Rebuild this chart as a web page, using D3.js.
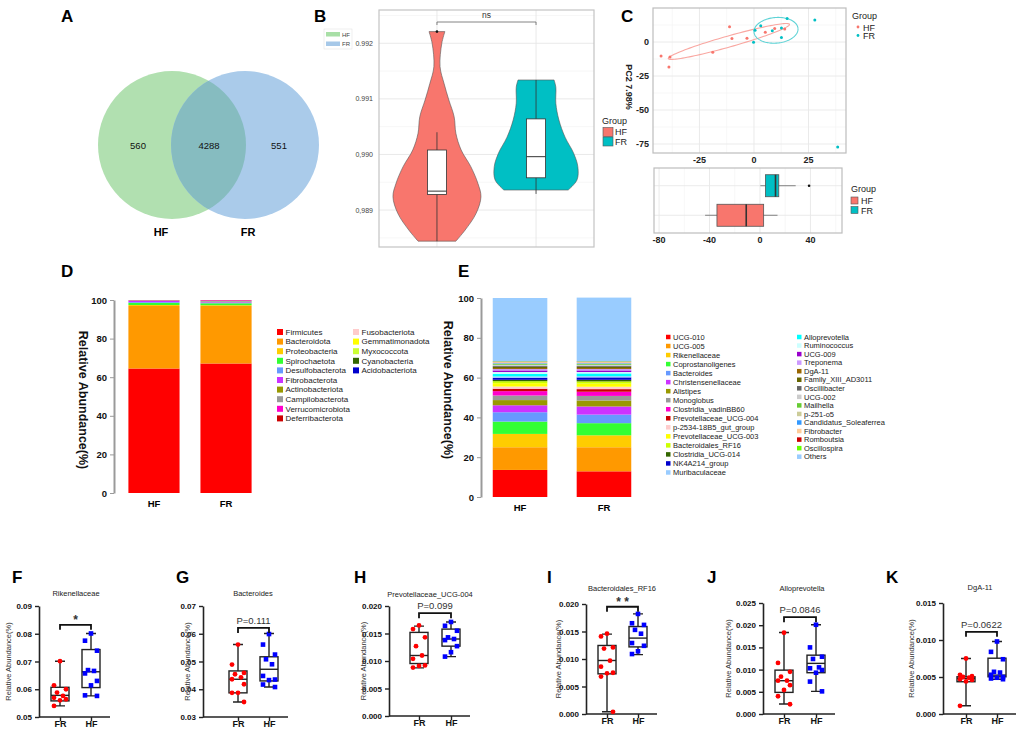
<!DOCTYPE html>
<html>
<head>
<meta charset="utf-8">
<script src="https://cdn.jsdelivr.net/npm/d3@7"></script>
<style>
  body { margin: 0; background: #fff; }
  text { font-family: "Liberation Sans", Arial, sans-serif; }
</style>
</head>
<body>
<svg id="fig" width="1021" height="732"></svg>
<script>
////////////////////////////////////////////////////////
//////////////////// Data //////////////////////////////
////////////////////////////////////////////////////////

// A - venn
const vennGroups = ["HF", "FR"];
const vennCounts = [560, 4288, 551];

// B - alpha diversity violins
const groupsB = ["HF", "FR"];
const vioHFVals = [0.99221, 0.99200, 0.99158, 0.99128, 0.99098, 0.99068, 0.99038, 0.99008, 0.98978, 0.98948, 0.98924, 0.98894, 0.98864, 0.98844];
const vioHFDens = [0.18, 0.11, 0.07, 0.16, 0.27, 0.39, 0.43, 0.55, 0.77, 0.93, 1.00, 0.89, 0.64, 0.43];
const vioFRVals = [0.99134, 0.99121, 0.99092, 0.99062, 0.99031, 0.99003, 0.98978, 0.98954, 0.98936];
const vioFRDens = [0.41, 0.45, 0.45, 0.52, 0.66, 0.85, 0.95, 0.93, 0.73];
const boxHF = [0.98844, 0.98928, 0.98934, 0.99008, 0.99040]; // lo, q1, median, q3, hi
const boxFR = [0.98929, 0.98958, 0.98996, 0.99064, 0.99134];
const outHF = [0.99221];
const ticksB = [0.989, 0.990, 0.991, 0.992];
const tickLabelsB = ["0,989", "0,990", "0.991", "0.992"];

// C - PCA
const pcaHFx = [-42.6, -38.5, -39.0, -18.9, -11.2, -10.1, -3.2, 5.2, 9.5, 14.1];
const pcaHFy = [-10.3, -11.0, -18.4, -7.6, 11.3, 2.5, 2.7, 7.1, 10.0, 9.6];
const pcaFRx = [0.5, 3.1, -0.2, 8.4, 12.6, 12.6, 15.2, 27.9, 38.4];
const pcaFRy = [8.6, 12.0, -0.2, 8.3, 10.3, 3.4, 17.2, 16.2, -77.2];
const ellHF = [-11.5, 0.4, 27.8, 12.6, 0.68, -3.9]; // cx, cy, ax, ay, bx, by
const ellFR = [10.1, 8.6, 10.1, 1.2, -0.3, 9.4];
const ticksCx = [-25, 0, 25];
const ticksCy = [0, -25, -50, -75];
const pc1BoxHF = [-43.5, -34.1, -10.9, 2.9, 13.9];
const pc1BoxFR = [0.3, 4.3, 12.3, 14.9, 28.3];
const pc1OutFR = [38.9];
const ticksCb = [-80, -40, 0, 40];

// D - phylum composition
const phylaNames = ["Firmicutes", "Bacteroidota", "Proteobacteria", "Spirochaetota", "Desulfobacterota", "Fibrobacterota",
  "Actinobacteriota", "Campilobacterota", "Verrucomicrobiota", "Deferribacterota",
  "Fusobacteriota", "Gemmatimonadota", "Myxococcota", "Cyanobacteria", "Acidobacteriota"];
const phylaColors = ["#ff0000", "#ff9900", "#ffcc00", "#33ff33", "#6699ff", "#cc33ff",
  "#999900", "#999999", "#ff00cc", "#cc0000",
  "#ffcccc", "#ffff00", "#ccff33", "#336600", "#0000cc"];
const phylaHF = [64.5, 32.4, 0.5, 1.1, 0.4, 0.7, 0.1, 0.1, 0.1, 0.05, 0.01, 0.01, 0.01, 0.01, 0.01];
const phylaFR = [67.1, 29.8, 0.4, 1.0, 0.3, 0.3, 0.2, 0.5, 0.3, 0.1, 0, 0, 0, 0, 0];
const barGroups = ["HF", "FR"];
const ticksPct = [0, 20, 40, 60, 80, 100];

// E - genus composition
const genusNames = ["UCG-010", "UCG-005", "Rikenellaceae", "Coprostanoligenes", "Bacteroides", "Christensenellaceae",
  "Alistipes", "Monoglobus", "Clostridia_vadinBB60", "Prevotellaceae_UCG-004", "p-2534-18B5_gut_group",
  "Prevotellaceae_UCG-003", "Bacteroidales_RF16", "Clostridia_UCG-014", "NK4A214_group", "Muribaculaceae",
  "Alloprevotella", "Ruminococcus", "UCG-009", "Treponema", "DgA-11", "Family_XIII_AD3011", "Oscillibacter",
  "UCG-002", "Mailhella", "p-251-o5", "Candidatus_Soleaferrea", "Fibrobacter", "Romboutsia", "Oscillospira", "Others"];
const genusColors = ["#ff0000", "#ff9900", "#ffcc00", "#33ff33", "#6699ff", "#cc33ff",
  "#999900", "#999999", "#ff00cc", "#cc0000", "#ffcccc",
  "#ffff00", "#ccff00", "#336600", "#0000cc", "#99ccff",
  "#00ffff", "#ccffff", "#9900cc", "#cc99ff", "#996600", "#666600", "#666666",
  "#cccccc", "#66cc33", "#cccc99", "#3399ff", "#ffcc99", "#cc0000", "#66ff00", "#99ccff"];
const genusHF = [13.6, 11.4, 6.7, 6.2, 4.7, 3.5, 2.6, 2.3, 2.2, 1.2, 1.1, 1.7, 1.0, 0.7, 1.0, 0.7,
  1.3, 0.9, 0.8, 0.7, 0.5, 0.6, 0.5, 0.5, 0.4, 0.3, 0.3, 0.4, 0.2, 0.2, 31.8];
const genusFR = [12.9, 12.1, 6.0, 6.1, 4.3, 4.1, 3.0, 2.3, 2.1, 1.3, 1.2, 1.6, 1.1, 0.8, 1.2, 0.6,
  1.4, 0.7, 0.8, 0.7, 0.5, 0.6, 0.5, 0.5, 0.4, 0.3, 0.3, 0.4, 0.2, 0.2, 32.0];

// F-K - differential genera
const fkGroups = ["FR", "HF"];
const fkTitles = ["Rikenellaceae", "Bacteroides", "Prevotellaceae_UCG-004", "Bacteroidales_RF16", "Alloprevotella", "DgA-11"];
const fkSig = ["*", "P=0.111", "P=0.099", "* *", "P=0.0846", "P=0.0622"];
const fkDomains = [[0.05, 0.09], [0.03, 0.07], [0, 0.02], [0, 0.02], [0, 0.025], [0, 0.015]];
const fkTicks = [
  [0.05, 0.06, 0.07, 0.08, 0.09],
  [0.03, 0.04, 0.05, 0.06, 0.07],
  [0, 0.005, 0.01, 0.015, 0.02],
  [0, 0.005, 0.01, 0.015, 0.02],
  [0, 0.005, 0.01, 0.015, 0.02, 0.025],
  [0, 0.005, 0.01, 0.015]];
const fkFormats = [".2f", ".2f", ".3f", ".3f", ".3f", ".3f"];
const fkBracket = [0.0832, 0.0621, 0.0187, 0.0195, 0.0218, 0.0111];
const fkFRPts = [
  [0.0701, 0.0614, 0.0600, 0.0588, 0.0576, 0.0569, 0.0564, 0.0560, 0.0540],
  [0.0561, 0.0489, 0.0459, 0.0454, 0.0443, 0.0436, 0.0418, 0.0387, 0.0387, 0.0354],
  [0.01647, 0.0158, 0.0143, 0.0127, 0.0110, 0.0104, 0.0092, 0.0091, 0.0088],
  [0.0146, 0.0141, 0.0121, 0.0119, 0.0097, 0.0086, 0.0075, 0.0074, 0.0068, 0.0004],
  [0.0183, 0.0115, 0.0095, 0.0084, 0.0075, 0.0075, 0.0065, 0.0054, 0.0040, 0.0022],
  [0.0075, 0.0053, 0.0051, 0.0050, 0.0049, 0.0047, 0.0046, 0.0044, 0.0011]];
const fkHFPts = [
  [0.0801, 0.0775, 0.0739, 0.0669, 0.0666, 0.0657, 0.0630, 0.0614, 0.0578, 0.0576],
  [0.0599, 0.0561, 0.0525, 0.0508, 0.0490, 0.0448, 0.0435, 0.0433, 0.0417, 0.0408],
  [0.0171, 0.0164, 0.0155, 0.0143, 0.0140, 0.0138, 0.0127, 0.0116, 0.0108],
  [0.0182, 0.0165, 0.0162, 0.0153, 0.0146, 0.0129, 0.0124, 0.0114, 0.0109],
  [0.0201, 0.0150, 0.0129, 0.0124, 0.0105, 0.0103, 0.0099, 0.0093, 0.0073, 0.0051],
  [0.0098, 0.0084, 0.0074, 0.0057, 0.0056, 0.0053, 0.0050, 0.0049, 0.0048, 0.0047]];
const fkFRBox = [
  [0.0540, 0.0558, 0.0578, 0.0607, 0.0701],
  [0.0354, 0.0387, 0.0436, 0.0466, 0.0561],
  [0.00875, 0.00954, 0.0110, 0.0152, 0.01635],
  [0.0004, 0.0073, 0.00973, 0.01246, 0.01453],
  [0.00225, 0.00487, 0.0075, 0.00988, 0.01834],
  [0.00112, 0.00436, 0.0048, 0.00503, 0.0075]];
const fkHFBox = [
  [0.0576, 0.0606, 0.0663, 0.0743, 0.0801],
  [0.0408, 0.0430, 0.0472, 0.0517, 0.0601],
  [0.0108, 0.0127, 0.0140, 0.0158, 0.0171],
  [0.0108, 0.0122, 0.0138, 0.0159, 0.0182],
  [0.0051, 0.0093, 0.0114, 0.01325, 0.0201],
  [0.0047, 0.00503, 0.00525, 0.00754, 0.0098]];

////////////////////////////////////////////////////////
//////////////////// Setup /////////////////////////////
////////////////////////////////////////////////////////

const svg = d3.select("#fig");
const HFcol = "#f8766d", FRcol = "#00bfc4";

let panelLetter = function (x, y, t) {
  svg.append("text").attr("x", x).attr("y", y)
    .attr("font-size", 17).attr("font-weight", "bold").text(t);
};

// ggplot-ish box (horizontal or vertical)
let drawBox = function (g, s, pos, half, fill, horizontal) {
  const [lo, q1, md, q3, hi] = s.map(pos.val);
  const c = pos.c;
  if (!horizontal) {
    g.append("line").attr("x1", c).attr("x2", c).attr("y1", lo).attr("y2", hi)
      .attr("stroke", "#333").attr("stroke-width", 0.8);
    g.append("rect").attr("x", c - half).attr("width", 2 * half).attr("y", q3).attr("height", q1 - q3)
      .attr("fill", fill).attr("stroke", "#333").attr("stroke-width", 0.8);
    g.append("line").attr("x1", c - half).attr("x2", c + half).attr("y1", md).attr("y2", md)
      .attr("stroke", "#333").attr("stroke-width", 1);
  } else {
    g.append("line").attr("y1", c).attr("y2", c).attr("x1", lo).attr("x2", hi)
      .attr("stroke", "#666").attr("stroke-width", 0.8);
    g.append("rect").attr("y", c - half).attr("height", 2 * half).attr("x", q1).attr("width", q3 - q1)
      .attr("fill", fill).attr("stroke", "#555").attr("stroke-width", 0.8);
    g.append("line").attr("y1", c - half).attr("y2", c + half).attr("x1", md).attr("x2", md)
      .attr("stroke", "#333").attr("stroke-width", 1.6);
  }
};

////////////////////////////////////////////////////////
//////////////////// A: Venn ///////////////////////////
////////////////////////////////////////////////////////

panelLetter(61, 22, "A");
const vennX = d3.scalePoint().domain(vennGroups).range([172, 245]);
const vennR = 74, vennY = 145;

svg.append("defs").append("clipPath").attr("id", "clipHF")
  .append("circle").attr("cx", vennX("HF")).attr("cy", vennY).attr("r", vennR);

svg.append("circle").attr("cx", vennX("HF")).attr("cy", vennY).attr("r", vennR).attr("fill", "#b1e0b0");
svg.append("circle").attr("cx", vennX("FR")).attr("cy", vennY).attr("r", vennR).attr("fill", "#aacbea");
svg.append("circle").attr("cx", vennX("FR")).attr("cy", vennY).attr("r", vennR)
  .attr("clip-path", "url(#clipHF)").attr("fill", "#86bcc0");

const vennTextX = [138, 209, 279];
vennCounts.forEach((c, i) => {
  svg.append("text").attr("x", vennTextX[i]).attr("y", vennY + 3.5).attr("text-anchor", "middle")
    .attr("font-size", 9.5).attr("fill", "#111").text(c);
});
vennGroups.forEach((g, i) => {
  svg.append("text").attr("x", [161, 248][i]).attr("y", 236).attr("text-anchor", "middle")
    .attr("font-size", 11).attr("font-weight", "bold").text(g);
});

////////////////////////////////////////////////////////
//////////////////// B: violins ////////////////////////
////////////////////////////////////////////////////////

panelLetter(314, 22, "B");
const xB = d3.scalePoint().domain(groupsB).range([379, 594]).padding(0.585);
const yB = d3.scaleLinear().domain([0.988335, 0.992599]).range([247, 10]);
const wB = d3.scaleLinear().domain([0, 1]).range([0, 44]);

const gB = svg.append("g");
d3.range(0.9885, 0.9926, 0.001).forEach(v => {
  gB.append("line").attr("x1", 379).attr("x2", 594).attr("y1", yB(v)).attr("y2", yB(v))
    .attr("stroke", "#f3f3f3").attr("stroke-width", 0.7);
});
ticksB.forEach(v => {
  gB.append("line").attr("x1", 379).attr("x2", 594).attr("y1", yB(v)).attr("y2", yB(v))
    .attr("stroke", "#e6e6e6").attr("stroke-width", 0.9);
});
groupsB.forEach(g => {
  gB.append("line").attr("x1", xB(g)).attr("x2", xB(g)).attr("y1", 10).attr("y2", 247)
    .attr("stroke", "#e6e6e6").attr("stroke-width", 0.9);
});

const violin = (vals, dens, g) => d3.area()
  .y((d, i) => yB(vals[i]))
  .x0((d, i) => xB(g) - wB(dens[i]))
  .x1((d, i) => xB(g) + wB(dens[i]))
  .curve(d3.curveCatmullRom)(vals);

gB.append("path").attr("d", violin(vioHFVals, vioHFDens, "HF"))
  .attr("fill", HFcol).attr("stroke", "#555").attr("stroke-width", 0.6);
gB.append("path").attr("d", violin(vioFRVals, vioFRDens, "FR"))
  .attr("fill", FRcol).attr("stroke", "#555").attr("stroke-width", 0.6);

drawBox(gB, boxHF, { val: yB, c: xB("HF") }, 9.5, "#fff", false);
drawBox(gB, boxFR, { val: yB, c: xB("FR") }, 9.5, "#fff", false);
outHF.forEach(v => gB.append("circle").attr("cx", xB("HF")).attr("cy", yB(v)).attr("r", 1.3).attr("fill", "#111"));

gB.append("rect").attr("x", 379).attr("y", 10).attr("width", 215).attr("height", 237)
  .attr("fill", "none").attr("stroke", "#c4c4c4").attr("stroke-width", 1.2);

ticksB.forEach((v, i) => {
  gB.append("text").attr("x", 373).attr("y", yB(v) + 2.5).attr("text-anchor", "end")
    .attr("font-size", 7).attr("fill", "#444").text(tickLabelsB[i]);
});

// ns bracket
const nsY = 22;
gB.append("path").attr("d", `M${xB("HF")},${nsY + 3}V${nsY}H${xB("FR")}V${nsY + 3}`)
  .attr("fill", "none").attr("stroke", "#666").attr("stroke-width", 0.8);
gB.append("text").attr("x", (xB("HF") + xB("FR")) / 2).attr("y", 18).attr("text-anchor", "middle")
  .attr("font-size", 8.5).attr("fill", "#333").text("ns");

// small top-left legend (HF / FR)
gB.append("rect").attr("x", 324).attr("y", 29).attr("width", 28).attr("height", 20)
  .attr("fill", "#fff").attr("stroke", "#e4e4e4").attr("stroke-width", 0.6);
[["HF", "#a8dfa6"], ["FR", "#a6c8e8"]].forEach(([t, c], i) => {
  gB.append("rect").attr("x", 326).attr("y", 32 + i * 9.5).attr("width", 14).attr("height", 4.5).attr("fill", c);
  gB.append("text").attr("x", 342).attr("y", 36.5 + i * 9.5).attr("font-size", 6).attr("fill", "#444").text(t);
});

// Group legend for violins
gB.append("text").attr("x", 602).attr("y", 124).attr("font-size", 9).attr("fill", "#222").text("Group");
[["HF", HFcol], ["FR", FRcol]].forEach(([t, c], i) => {
  gB.append("rect").attr("x", 603).attr("y", 127.5 + i * 9.5).attr("width", 10).attr("height", 9)
    .attr("fill", c).attr("stroke", "#555").attr("stroke-width", 0.6);
  gB.append("text").attr("x", 615).attr("y", 135 + i * 9.5).attr("font-size", 9).attr("fill", "#222").text(t);
});

////////////////////////////////////////////////////////
//////////////////// C: PCA ////////////////////////////
////////////////////////////////////////////////////////

panelLetter(621, 22, "C");
const xC = d3.scaleLinear().domain([-46.3, 42.2]).range([653, 846]);
const yC = d3.scaleLinear().domain([-81.6, 25]).range([153, 8]);
const gC = svg.append("g");

[-37.5, -12.5, 12.5, 37.5].forEach(v => gC.append("line").attr("x1", xC(v)).attr("x2", xC(v)).attr("y1", 8).attr("y2", 153)
  .attr("stroke", "#f4f4f4").attr("stroke-width", 0.7));
[12.5, -12.5, -37.5, -62.5].forEach(v => gC.append("line").attr("y1", yC(v)).attr("y2", yC(v)).attr("x1", 653).attr("x2", 846)
  .attr("stroke", "#f4f4f4").attr("stroke-width", 0.7));
ticksCx.forEach(v => gC.append("line").attr("x1", xC(v)).attr("x2", xC(v)).attr("y1", 8).attr("y2", 153)
  .attr("stroke", "#e8e8e8").attr("stroke-width", 0.9));
ticksCy.forEach(v => gC.append("line").attr("y1", yC(v)).attr("y2", yC(v)).attr("x1", 653).attr("x2", 846)
  .attr("stroke", "#e8e8e8").attr("stroke-width", 0.9));

const ellipse = e => {
  const pts = d3.range(0, 2 * Math.PI + 0.01, Math.PI / 60).map(t =>
    [xC(e[0] + e[2] * Math.cos(t) + e[4] * Math.sin(t)), yC(e[1] + e[3] * Math.cos(t) + e[5] * Math.sin(t))]);
  return d3.line()(pts);
};
gC.append("path").attr("d", ellipse(ellHF)).attr("fill", "none").attr("stroke", "#f9a7a1").attr("stroke-width", 1.1);
gC.append("path").attr("d", ellipse(ellFR)).attr("fill", "none").attr("stroke", "#5fd3d6").attr("stroke-width", 1.1);

pcaHFx.forEach((v, i) => gC.append("circle").attr("cx", xC(v)).attr("cy", yC(pcaHFy[i])).attr("r", 1.5).attr("fill", HFcol));
pcaFRx.forEach((v, i) => gC.append("circle").attr("cx", xC(v)).attr("cy", yC(pcaFRy[i])).attr("r", 1.5).attr("fill", FRcol));

gC.append("rect").attr("x", 653).attr("y", 8).attr("width", 193).attr("height", 145)
  .attr("fill", "none").attr("stroke", "#bdbdbd").attr("stroke-width", 1.2);

ticksCx.forEach(v => gC.append("text").attr("x", xC(v)).attr("y", 163).attr("text-anchor", "middle")
  .attr("font-size", 9).attr("font-weight", 600).attr("fill", "#222").text(v));
ticksCy.forEach(v => gC.append("text").attr("x", 649).attr("y", yC(v) + 3).attr("text-anchor", "end")
  .attr("font-size", 9).attr("font-weight", 600).attr("fill", "#222").text(v));
gC.append("text").attr("transform", "translate(626,87) rotate(90)").attr("text-anchor", "middle")
  .attr("font-size", 9).attr("font-weight", 600).attr("fill", "#222").text("PC2  7.98%");

gC.append("text").attr("x", 852).attr("y", 19).attr("font-size", 9).attr("fill", "#222").text("Group");
[["HF", HFcol], ["FR", FRcol]].forEach(([t, c], i) => {
  gC.append("circle").attr("cx", 858).attr("cy", 27 + i * 8.5).attr("r", 1.4).attr("fill", c);
  gC.append("text").attr("x", 863).attr("y", 30.5 + i * 8.5).attr("font-size", 9).attr("fill", "#222").text(t);
});

// PC1 boxplot
const xCb = d3.scaleLinear().domain([-84, 65]).range([654, 842]);
const yCb = d3.scalePoint().domain(["FR", "HF"]).range([168, 233]).padding(0.6);
[-60, -20, 20, 60].forEach(v => gC.append("line").attr("x1", xCb(v)).attr("x2", xCb(v)).attr("y1", 168).attr("y2", 233)
  .attr("stroke", "#f4f4f4").attr("stroke-width", 0.7));
ticksCb.forEach(v => gC.append("line").attr("x1", xCb(v)).attr("x2", xCb(v)).attr("y1", 168).attr("y2", 233)
  .attr("stroke", "#e8e8e8").attr("stroke-width", 0.9));
["FR", "HF"].forEach(g => gC.append("line").attr("x1", 654).attr("x2", 842).attr("y1", yCb(g)).attr("y2", yCb(g))
  .attr("stroke", "#e8e8e8").attr("stroke-width", 0.9));
drawBox(gC, pc1BoxFR, { val: xCb, c: yCb("FR") }, 11, FRcol, true);
drawBox(gC, pc1BoxHF, { val: xCb, c: yCb("HF") }, 11, HFcol, true);
pc1OutFR.forEach(v => gC.append("circle").attr("cx", xCb(v)).attr("cy", yCb("FR")).attr("r", 1.3).attr("fill", "#111"));
gC.append("rect").attr("x", 654).attr("y", 168).attr("width", 188).attr("height", 65)
  .attr("fill", "none").attr("stroke", "#bdbdbd").attr("stroke-width", 1.2);
ticksCb.forEach(v => gC.append("text").attr("x", xCb(v)).attr("y", 243).attr("text-anchor", "middle")
  .attr("font-size", 9).attr("font-weight", 600).attr("fill", "#222").text(v));

gC.append("text").attr("x", 851).attr("y", 192).attr("font-size", 9).attr("fill", "#222").text("Group");
[["HF", HFcol], ["FR", FRcol]].forEach(([t, c], i) => {
  gC.append("rect").attr("x", 851).attr("y", 197 + i * 9.5).attr("width", 7).attr("height", 7)
    .attr("fill", c).attr("stroke", "#555").attr("stroke-width", 0.6);
  gC.append("text").attr("x", 861).attr("y", 204 + i * 9.5).attr("font-size", 9).attr("fill", "#222").text(t);
});

////////////////////////////////////////////////////////
//////////////////// D / E: stacked bars ///////////////
////////////////////////////////////////////////////////

let stackedPanel = function (opt) {
  const rows = barGroups.map((g, gi) => {
    const r = { group: g };
    opt.names.forEach((n, i) => { r[n] = (gi === 0 ? opt.hf : opt.fr)[i]; });
    return r;
  });
  const series = d3.stack().keys(opt.names)(rows);
  const color = d3.scaleOrdinal().domain(opt.names).range(opt.colors);
  const x = d3.scaleBand().domain(barGroups).range(opt.xRange).paddingInner(opt.pi).paddingOuter(opt.po);
  const y = d3.scaleLinear().domain([0, 100]).range(opt.yRange);
  const g = svg.append("g");

  g.append("g").selectAll("g").data(series).join("g")
    .attr("fill", d => color(d.key))
    .selectAll("rect").data(d => d).join("rect")
    .attr("x", d => x(d.data.group)).attr("width", x.bandwidth())
    .attr("y", d => y(d[1])).attr("height", d => Math.max(0, y(d[0]) - y(d[1])));

  const ax = g.append("g").attr("transform", `translate(${opt.xRange[0]},0)`)
    .call(d3.axisLeft(y).tickValues(ticksPct).tickSize(4).tickSizeOuter(0));
  ax.select(".domain").attr("stroke", "#9a9a9a").attr("stroke-width", 2);
  ax.selectAll(".tick line").attr("stroke", "#9a9a9a").attr("stroke-width", 1);
  ax.selectAll(".tick text").attr("font-size", 9.5).attr("font-weight", 600).attr("fill", "#111")
    .attr("font-family", "Liberation Sans, Arial, sans-serif");

  barGroups.forEach(b => g.append("text").attr("x", x(b) + x.bandwidth() / 2).attr("y", opt.yRange[0] + 14)
    .attr("text-anchor", "middle").attr("font-size", 9.5).attr("font-weight", "bold").text(b));

  g.append("text").attr("transform", `translate(${opt.titleX},${opt.titleY}) rotate(90)`).attr("text-anchor", "middle")
    .attr("font-size", 12.5).attr("font-weight", "bold").attr("fill", "#111").text("Relative Abundance(%)");

  // legend
  opt.names.forEach((n, i) => {
    const col = i < opt.split ? 0 : 1;
    const row = col === 0 ? i : i - opt.split;
    const lx = opt.legX[col], ly = opt.legY + row * opt.legStep[col];
    g.append("rect").attr("x", lx).attr("y", ly - opt.sw / 2).attr("width", opt.sw).attr("height", opt.sw).attr("fill", color(n));
    g.append("text").attr("x", lx + opt.sw + 2.5).attr("y", ly + opt.fs * 0.36)
      .attr("font-size", opt.fs).attr("fill", "#222").text(n);
  });
};

panelLetter(61, 277, "D");
stackedPanel({
  names: phylaNames, colors: phylaColors, hf: phylaHF, fr: phylaFR,
  xRange: [114, 266], pi: 0.29, po: 0.2, yRange: [493, 300],
  titleX: 79, titleY: 400,
  split: 10, legX: [277, 353], legY: 332, legStep: [9.6, 9.6], sw: 6, fs: 8
});

panelLetter(458, 277, "E");
stackedPanel({
  names: genusNames, colors: genusColors, hf: genusHF, fr: genusFR,
  xRange: [481, 643], pi: 0.35, po: 0.14, yRange: [497, 298],
  titleX: 444, titleY: 390,
  split: 16, legX: [666, 797], legY: 337, legStep: [9.03, 8.55], sw: 4.5, fs: 7.5
});

////////////////////////////////////////////////////////
//////////////////// F-K: boxplots /////////////////////
////////////////////////////////////////////////////////

const fkLayout = [
  { ax: 39, top: 606, bot: 717, fr: 60, hf: 91, letter: [12, "F"], title: 76, titleY: 596, yt: 11 },
  { ax: 203, top: 606, bot: 717, fr: 238, hf: 269, letter: [176, "G"], title: 253, titleY: 596, yt: 190 },
  { ax: 389, top: 606, bot: 716, fr: 419, hf: 451, letter: [354, "H"], title: 430, titleY: 597, yt: 366 },
  { ax: 586, top: 604, bot: 714, fr: 607, hf: 638, letter: [547, "I"], title: 622, titleY: 591, yt: 561 },
  { ax: 763, top: 603, bot: 714, fr: 784, hf: 816, letter: [707, "J"], title: 802, titleY: 591, yt: 731 },
  { ax: 943, top: 603, bot: 714, fr: 966, hf: 997, letter: [886, "K"], title: 980, titleY: 590, yt: 914 }
];
const jitter = [0, -6, 6, -3, 3, -6, 6, 0, -6, 6];

fkTitles.forEach((title, i) => {
  const L = fkLayout[i];
  const g = svg.append("g");
  const y = d3.scaleLinear().domain(fkDomains[i]).range([L.bot, L.top]);
  const x = d3.scalePoint().domain(fkGroups).range([L.fr, L.hf]);

  panelLetter(L.letter[0], 583, L.letter[1]);
  g.append("text").attr("x", L.title).attr("y", L.titleY).attr("text-anchor", "middle")
    .attr("font-size", 7.5).attr("fill", "#222").text(title);

  const ay = g.append("g").attr("transform", `translate(${L.ax},0)`)
    .call(d3.axisLeft(y).tickValues(fkTicks[i]).tickFormat(d3.format(fkFormats[i])).tickSize(4).tickSizeOuter(0));
  ay.select(".domain").attr("stroke", "#222").attr("stroke-width", 1.6);
  ay.selectAll(".tick line").attr("stroke", "#222").attr("stroke-width", 1.4);
  ay.selectAll(".tick text").attr("font-size", 8).attr("font-weight", "bold").attr("fill", "#111")
    .attr("font-family", "Liberation Sans, Arial, sans-serif");

  const axx = g.append("g").attr("transform", `translate(0,${L.bot})`)
    .call(d3.axisBottom(x).tickSize(4).tickSizeOuter(0));
  axx.select(".domain").remove();
  axx.selectAll(".tick line").attr("stroke", "#222").attr("stroke-width", 1.4);
  axx.selectAll(".tick text").attr("font-size", 9).attr("font-weight", "bold").attr("fill", "#111")
    .attr("y", 4).attr("dy", "0.71em")
    .attr("font-family", "Liberation Sans, Arial, sans-serif");
  g.append("line").attr("x1", L.ax).attr("x2", L.hf + 19).attr("y1", L.bot).attr("y2", L.bot)
    .attr("stroke", "#222").attr("stroke-width", 1.6);

  g.append("text").attr("transform", `translate(${L.yt},${(L.top + L.bot) / 2}) rotate(-90)`).attr("text-anchor", "middle")
    .attr("font-size", 7.5).attr("fill", "#333").text("Relative Abundance(%)");

  // boxes
  [["FR", fkFRBox[i]], ["HF", fkHFBox[i]]].forEach(([grp, s]) => {
    const c = x(grp), h = 9;
    const [lo, q1, md, q3, hi] = s.map(y);
    g.append("path").attr("d", `M${c},${lo}V${q1}M${c},${q3}V${hi}M${c - 5},${lo}H${c + 5}M${c - 5},${hi}H${c + 5}`)
      .attr("stroke", "#222").attr("stroke-width", 1.4).attr("fill", "none");
    g.append("rect").attr("x", c - h).attr("width", 2 * h).attr("y", q3).attr("height", q1 - q3)
      .attr("fill", "none").attr("stroke", "#222").attr("stroke-width", 1.4);
    g.append("line").attr("x1", c - h).attr("x2", c + h).attr("y1", md).attr("y2", md)
      .attr("stroke", "#222").attr("stroke-width", 1.4);
  });

  fkFRPts[i].forEach((v, j) => g.append("circle").attr("cx", x("FR") + jitter[j % 10]).attr("cy", y(v))
    .attr("r", 2.4).attr("fill", "#ff0000"));
  fkHFPts[i].forEach((v, j) => g.append("rect").attr("x", x("HF") + jitter[j % 10] - 2.3).attr("y", y(v) - 2.3)
    .attr("width", 4.6).attr("height", 4.6).attr("fill", "#0000ff"));

  // significance bracket
  const yb = y(fkBracket[i]);
  g.append("path").attr("d", `M${x("FR")},${yb + 5}V${yb}H${x("HF")}V${yb + 5}`)
    .attr("fill", "none").attr("stroke", "#111").attr("stroke-width", 1.8);
  const star = fkSig[i].indexOf("*") >= 0;
  g.append("text").attr("x", (x("FR") + x("HF")) / 2).attr("y", star ? yb - 1 : yb - 4).attr("text-anchor", "middle")
    .attr("font-size", star ? 12 : 9.5).attr("font-weight", star ? "bold" : "normal").attr("fill", "#333")
    .text(fkSig[i]);
});
</script>
</body>
</html>
